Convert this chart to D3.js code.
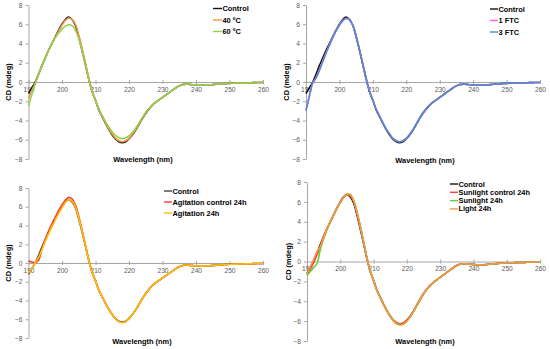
<!DOCTYPE html>
<html>
<head>
<meta charset="utf-8">
<script src="https://cdn.jsdelivr.net/npm/d3@7"></script>
<style>
body {margin:0; background:#fff}
svg {display:block}
text {font-family:"Liberation Sans", Arial, sans-serif}
</style>
</head>
<body>
<svg id="chart" width="550" height="349"></svg>
<script>

// wavelength grid, 1 nm steps
var wavelengths = d3.range(190, 261, 1)

var tail = [-0.3, -0.32, -0.33, -0.32, -0.3, -0.27, -0.24, -0.21, -0.18, -0.16,
    -0.14, -0.13, -0.12, -0.11, -0.1, -0.09, -0.08, -0.07, -0.06, -0.05, -0.05]

var control = [-1.2, -0.6, 0.0, 0.8, 1.7, 2.5, 3.3, 4.0, 4.7, 5.4,
    6.0, 6.5, 6.75, 6.5, 5.9, 4.7, 3.3, 1.8, 0.3, -1.0,
    -1.9, -2.9, -3.6, -4.3, -4.95, -5.5, -5.95, -6.2, -6.3, -6.2,
    -5.9, -5.5, -5.0, -4.4, -3.8, -3.25, -2.8, -2.4, -2.1, -1.85,
    -1.6, -1.35, -1.1, -0.85, -0.6, -0.4, -0.27, -0.22, -0.25, -0.28].concat(tail)

var temp40 = [-1.7, -0.9, -0.1, 0.8, 1.7, 2.5, 3.3, 4.0, 4.65, 5.3,
    5.9, 6.4, 6.65, 6.5, 6.0, 4.9, 3.5, 1.95, 0.4, -0.95,
    -1.9, -2.85, -3.55, -4.25, -4.9, -5.4, -5.85, -6.1, -6.2, -6.1,
    -5.85, -5.45, -4.95, -4.35, -3.75, -3.2, -2.75, -2.4, -2.1, -1.85,
    -1.6, -1.35, -1.1, -0.85, -0.6, -0.4, -0.27, -0.22, -0.25, -0.28].concat(tail)

var temp60 = [-2.5, -1.3, -0.2, 0.8, 1.7, 2.5, 3.3, 4.0, 4.6, 5.1,
    5.5, 5.8, 5.95, 5.85, 5.4, 4.5, 3.2, 1.75, 0.25, -1.0,
    -1.9, -2.8, -3.5, -4.15, -4.7, -5.2, -5.55, -5.8, -5.88, -5.8,
    -5.6, -5.25, -4.8, -4.25, -3.7, -3.15, -2.72, -2.38, -2.08, -1.83,
    -1.6, -1.35, -1.1, -0.85, -0.6, -0.4, -0.27, -0.22, -0.25, -0.28].concat(tail)

var ftc1 = [-2.9, -1.45, -0.1, 0.45, 1.25, 2.15, 3.05, 3.85, 4.65, 5.35,
    5.95, 6.4, 6.62, 6.47, 5.92, 4.77, 3.37, 1.87, 0.37, -0.93,
    -1.9, -2.85, -3.55, -4.25, -4.9, -5.4, -5.85, -6.1, -6.2, -6.1,
    -5.85, -5.45, -4.95, -4.35, -3.75, -3.2, -2.75, -2.4, -2.1, -1.85,
    -1.6, -1.35, -1.1, -0.85, -0.6, -0.4, -0.27, -0.22, -0.25, -0.28].concat(tail)

var ftc3 = [-3.0, -1.5, -0.1, 0.4, 1.2, 2.1, 3.0, 3.8, 4.6, 5.3,
    5.9, 6.35, 6.6, 6.45, 5.9, 4.75, 3.35, 1.85, 0.35, -0.95,
    -1.9, -2.85, -3.55, -4.25, -4.9, -5.4, -5.85, -6.1, -6.2, -6.1,
    -5.85, -5.45, -4.95, -4.35, -3.75, -3.2, -2.75, -2.4, -2.1, -1.85,
    -1.6, -1.35, -1.1, -0.85, -0.6, -0.4, -0.27, -0.22, -0.25, -0.28].concat(tail)

var agitControl = [0.2, 0.1, 0.05, 0.3, 1.5, 2.5, 3.4, 4.2, 4.9, 5.6,
    6.2, 6.7, 7.0, 6.85, 6.2, 5.0, 3.5, 1.9, 0.35, -1.0,
    -1.9, -2.9, -3.6, -4.3, -4.95, -5.5, -5.95, -6.25, -6.35, -6.25,
    -5.95, -5.5, -5.0, -4.4, -3.8, -3.25, -2.8, -2.4, -2.1, -1.85,
    -1.6, -1.35, -1.1, -0.85, -0.6, -0.4, -0.27, -0.22, -0.25, -0.28].concat(tail)

var agit24 = [-1.1, -0.6, 0.0, 0.6, 1.4, 2.3, 3.1, 3.9, 4.6, 5.3,
    5.9, 6.45, 6.75, 6.6, 6.0, 4.8, 3.4, 1.85, 0.3, -1.0,
    -1.9, -2.9, -3.6, -4.3, -4.95, -5.5, -5.95, -6.25, -6.35, -6.25,
    -5.95, -5.5, -5.0, -4.4, -3.8, -3.25, -2.8, -2.4, -2.1, -1.85,
    -1.6, -1.35, -1.1, -0.85, -0.6, -0.4, -0.27, -0.22, -0.25, -0.28].concat(tail)

var sunControl = [-1.3, -0.7, -0.1, 0.7, 1.6, 2.5, 3.3, 4.0, 4.7, 5.35,
    5.95, 6.45, 6.7, 6.6, 6.05, 4.85, 3.45, 1.9, 0.35, -1.0,
    -1.9, -2.9, -3.6, -4.3, -4.95, -5.45, -5.9, -6.15, -6.25, -6.15,
    -5.9, -5.5, -5.0, -4.4, -3.8, -3.25, -2.8, -2.4, -2.1, -1.85,
    -1.6, -1.35, -1.1, -0.85, -0.6, -0.4, -0.27, -0.22, -0.25, -0.28].concat(tail)

var sun24 = [-1.4, -1.0, -0.6, -0.2, 1.2, 2.3, 3.2, 4.0, 4.7, 5.35,
    5.95, 6.45, 6.75, 6.7, 6.15, 5.0, 3.6, 2.0, 0.4, -0.95,
    -1.9, -2.9, -3.6, -4.3, -4.95, -5.5, -5.95, -6.25, -6.35, -6.3,
    -6.0, -5.6, -5.05, -4.45, -3.85, -3.3, -2.82, -2.42, -2.12, -1.86,
    -1.6, -1.35, -1.1, -0.85, -0.6, -0.4, -0.27, -0.22, -0.25, -0.28].concat(tail)

var light24 = [-1.2, -0.5, 0.2, 1.0, 1.5, 2.4, 3.3, 4.0, 4.7, 5.35,
    5.95, 6.45, 6.8, 6.75, 6.15, 5.0, 3.55, 1.95, 0.35, -1.0,
    -1.95, -2.95, -3.65, -4.35, -5.0, -5.55, -6.0, -6.3, -6.4, -6.3,
    -6.0, -5.55, -5.0, -4.4, -3.8, -3.25, -2.8, -2.4, -2.1, -1.85,
    -1.6, -1.35, -1.1, -0.85, -0.6, -0.4, -0.27, -0.22, -0.25, -0.28].concat(tail)

var xTicks = [190, 200, 210, 220, 230, 240, 250, 260]
var yTicks = [-8, -6, -4, -2, 0, 2, 4, 6, 8]

var panels = [
    {x0: 28.5, x1: 263, yTop: 5, yBot: 159, titleY: 161.5, titleX: 143, ylabX: 11,
     legX: 213, legY: 8.5, legDy: 11.5, legLen: 9,
     series: [["Control", control, "#111"], ["40 \u00baC", temp40, "#F79646"], ["60 \u00baC", temp60, "#92D050"]]},
    {x0: 306, x1: 540, yTop: 5, yBot: 159, titleY: 162.5, titleX: 425, ylabX: 289,
     legX: 490, legY: 9, legDy: 11.5, legLen: 8,
     series: [["Control", control, "#111"], ["1 FTC", ftc1, "#FF66CC"], ["3 FTC", ftc3, "#4F8BD6"]]},
    {x0: 28.5, x1: 263, yTop: 188, yBot: 338, titleY: 343.5, titleX: 142, ylabX: 11,
     legX: 164, legY: 191, legDy: 11, legLen: 8,
     series: [["Control", control, "#444"], ["Agitation control 24h", agitControl, "#FF3B3B"], ["Agitation 24h", agit24, "#FFC000"]]},
    {x0: 307, x1: 540, yTop: 182, yBot: 341, titleY: 343.5, titleX: 425, ylabX: 291,
     legX: 450, legY: 184, legDy: 8.3, legLen: 8,
     series: [["Control", control, "#111"], ["Sunlight control 24h", sunControl, "#FF3B3B"], ["Sunlight 24h", sun24, "#66CC33"], ["Light 24h", light24, "#F79646"]]}
]

var svg = d3.select("#chart")
var axisColor = "#A6A6A6"

panels.forEach(function(p) {
    var x = d3.scaleLinear().domain([190, 260]).range([p.x0, p.x1])
    var y = d3.scaleLinear().domain([-8, 8]).range([p.yBot, p.yTop])
    var g = svg.append("g")

    // y axis
    var yAxis = g.append("g").attr("transform", "translate(" + p.x0 + ",0)")
        .call(d3.axisLeft(y).tickValues(yTicks).tickSize(3).tickSizeOuter(0).tickPadding(3))
    yAxis.select(".domain").attr("stroke", axisColor)
    yAxis.selectAll(".tick line").attr("stroke", axisColor)
    yAxis.selectAll(".tick text").attr("fill", "#595959").style("font-size", "6.6px")

    // x axis sits on the zero line
    var xAxis = g.append("g").attr("transform", "translate(0," + y(0) + ")")
        .call(d3.axisBottom(x).tickValues(xTicks).tickSize(2).tickSizeOuter(0).tickPadding(3))
    xAxis.select(".domain").attr("stroke", axisColor)
    xAxis.selectAll(".tick line").attr("stroke", axisColor).attr("y1", -2).attr("y2", 2)
    xAxis.selectAll(".tick text").attr("fill", "#595959").style("font-size", "6.6px")

    var line = d3.line()
        .x(function(d, i) {return x(wavelengths[i])})
        .y(function(d) {return y(d)})
        .curve(d3.curveCatmullRom)

    g.selectAll("path.cd").data(p.series).enter().append("path")
        .attr("class", "cd")
        .attr("d", function(s) {return line(s[1])})
        .attr("fill", "none")
        .attr("stroke", function(s) {return s[2]})
        .attr("stroke-width", 1.6)

    // axis titles
    g.append("text").attr("x", p.titleX).attr("y", p.titleY)
        .attr("text-anchor", "middle").style("font-size", "7.4px").style("font-weight", "bold")
        .text("Wavelength (nm)")
    g.append("text")
        .attr("transform", "translate(" + p.ylabX + "," + ((p.yTop + p.yBot) / 2) + ") rotate(-90)")
        .attr("text-anchor", "middle").style("font-size", "7.4px").style("font-weight", "bold")
        .text("CD (mdeg)")

    // legend
    var leg = g.selectAll("g.leg").data(p.series).enter().append("g").attr("class", "leg")
        .attr("transform", function(d, i) {return "translate(" + p.legX + "," + (p.legY + i * p.legDy) + ")"})
    leg.append("line").attr("x1", 0).attr("x2", p.legLen)
        .attr("stroke", function(s) {return s[2]}).attr("stroke-width", 1.4)
    leg.append("text").attr("x", p.legLen + 0.5).attr("dy", "0.35em")
        .style("font-size", "7.4px").style("font-weight", "bold")
        .text(function(s) {return s[0]})
})

</script>
</body>
</html>
